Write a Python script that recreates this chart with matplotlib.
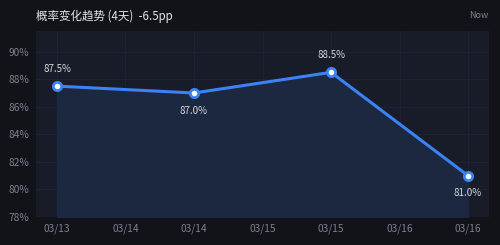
import matplotlib
matplotlib.use("Agg")
import matplotlib.pyplot as plt

plt.rcParams['font.family'] = ['Noto Sans CJK SC', 'DejaVu Sans']

days = [0, 1, 2, 3]
values = [87.5, 87.0, 88.5, 81.0]
labels = ["87.5%", "87.0%", "88.5%", "81.0%"]
label_pos = ["above", "below", "above", "below"]
tick_pos = [0, 0.5, 1, 1.5, 2, 2.5, 3]
tick_labels = ["03/13", "03/14", "03/14", "03/15", "03/15", "03/16", "03/16"]
yticks = [78, 80, 82, 84, 86, 88, 90]
title = "概率变化趋势 (4天)  -6.5pp"

fig = plt.figure(figsize=(5.0, 2.45), dpi=100, facecolor="#111318")
ax = fig.add_axes([36/500, 1 - 217/245, (489-36)/500, (217-31)/245])
ax.set_facecolor("#181c28")

ax.set_xlim(-0.153, 3.153)
ax.set_ylim(78, 91.5)

ax.fill_between(days, values, 78, color="#1c2740", zorder=1)
ax.plot(days, values, color="#3b82f6", lw=2.2, zorder=3,
        marker="o", ms=6, mfc="white", mec="#3b82f6", mew=2.0)

for x, v, t, p in zip(days, values, labels, label_pos):
    off = 9 if p == "above" else -9
    ax.annotate(t, (x, v), xytext=(0, off), textcoords="offset points",
                ha="center", va="bottom" if p == "above" else "top",
                color="#d6d8de", fontsize=7, zorder=4)

ax.set_xticks(tick_pos)
ax.set_xticklabels(tick_labels)
ax.set_yticks(yticks)
ax.set_yticklabels([f"{y}%" for y in yticks])
ax.tick_params(colors="#7d8190", labelsize=7.3, length=0, pad=5)
ax.grid(True, color="#20253399", lw=0.6, zorder=0)
ax.set_axisbelow(True)
for s in ax.spines.values():
    s.set_visible(False)

fig.text(36/500, 1 - 16/245, title, color="#e4e6ea", fontsize=8.3, va="center", ha="left")
fig.text(488/500, 1 - 15/245, "Now", color="#7d8190", fontsize=6.5, va="center", ha="right")

fig.savefig("out.png", dpi=100, facecolor=fig.get_facecolor())
